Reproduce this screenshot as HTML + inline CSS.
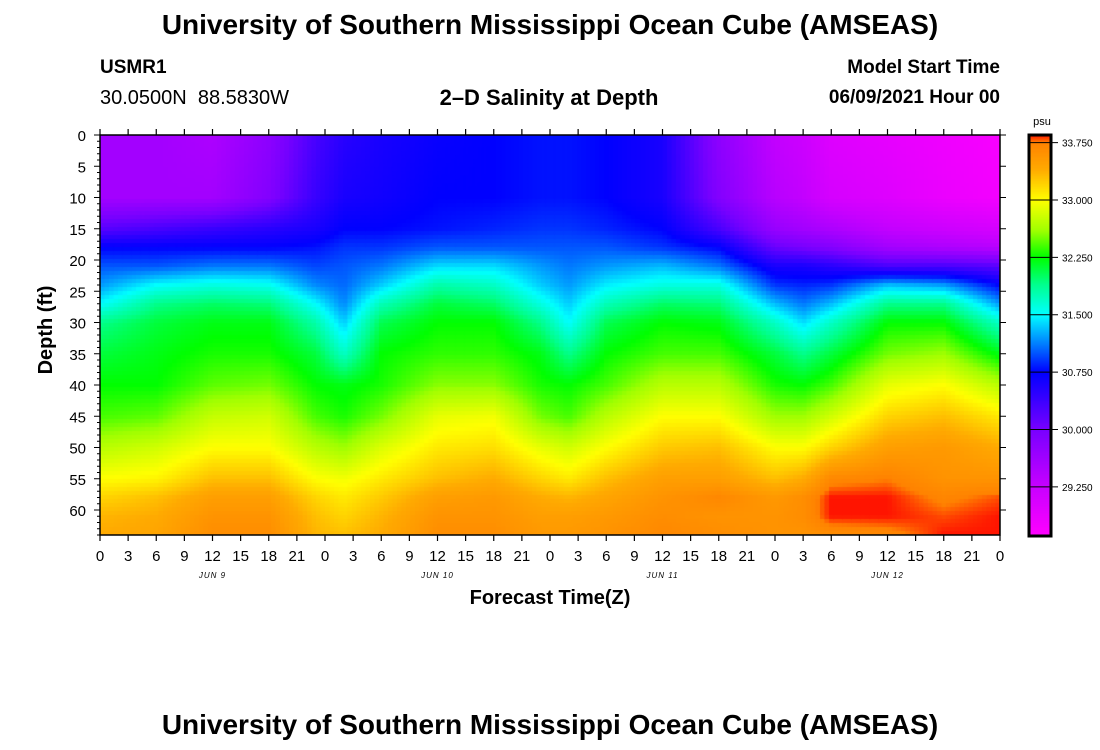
<!DOCTYPE html>
<html><head><meta charset="utf-8">
<style>
html,body{margin:0;padding:0;background:#fff;}
#wrap{position:relative;width:1100px;height:750px;overflow:hidden;font-family:"Liberation Sans",sans-serif;color:#000;}
.t{position:absolute;white-space:nowrap;}
</style></head>
<body>
<div id="wrap">
<div class="t" style="left:0;width:1100px;text-align:center;top:9px;font-size:28px;font-weight:bold;">University of Southern Mississippi Ocean Cube (AMSEAS)</div>
<div class="t" style="left:100px;top:57px;font-size:19px;font-weight:bold;">USMR1</div>
<div class="t" style="left:100px;top:87px;font-size:20px;">30.0500N&nbsp; 88.5830W</div>
<div class="t" style="left:349px;width:400px;text-align:center;top:85px;font-size:22px;font-weight:bold;">2–D Salinity at Depth</div>
<div class="t" style="right:100px;top:57px;font-size:19px;font-weight:bold;">Model Start Time</div>
<div class="t" style="right:100px;top:87px;font-size:19px;font-weight:bold;">06/09/2021 Hour 00</div>
<div class="t" style="left:0;width:1100px;text-align:center;top:709px;font-size:28px;font-weight:bold;">University of Southern Mississippi Ocean Cube (AMSEAS)</div>
<canvas id="heat" width="900" height="400" style="position:absolute;left:100px;top:135px;"></canvas>
<canvas id="cbar" width="20" height="400" style="position:absolute;left:1030px;top:135px;"></canvas>
<svg id="ax" width="1100" height="750" style="position:absolute;left:0;top:0;"></svg>
</div>
<script>
// ---- data ----
const times = [0,6,12,18,23,26,30,36,42,47,50,54,60,66,72,75,78,84,90,96];
const depths = [0,10,15,18,21,24,27,30,35,40,45,50,55,58,61,64];
// salinity (psu): one row per time, values by depth
const sal_t0  = [29.6,29.6,30.2,30.75,31.0,31.2,31.5,31.9,32.1,32.25,32.4,32.7,33.0,33.2,33.35,33.4];
const sal_t6  = [29.6,29.6,30.3,30.75,31.0,31.5,31.9,32.1,32.2,32.25,32.45,32.8,33.05,33.3,33.4,33.45];
const sal_t12 = [29.5,29.6,30.4,30.75,31.1,31.6,32.0,32.2,32.3,32.45,32.75,33.0,33.3,33.5,33.6,33.65];
const sal_t18 = [29.8,29.9,30.5,30.75,31.1,31.55,31.95,32.2,32.3,32.5,32.8,33.0,33.3,33.5,33.6,33.65];
const sal_t23 = [30.3,30.4,30.6,30.8,30.95,31.15,31.5,31.8,32.1,32.25,32.4,32.7,33.0,33.2,33.3,33.35];
const sal_t26 = [30.5,30.6,30.75,30.9,31.0,31.05,31.15,31.35,31.7,32.2,32.3,32.6,32.95,33.1,33.2,33.3];
const sal_t30 = [30.6,30.65,30.75,30.9,31.1,31.35,31.75,32.05,32.25,32.3,32.5,32.85,33.1,33.25,33.35,33.4];
const sal_t36 = [30.7,30.75,30.8,31.0,31.4,31.8,32.1,32.25,32.35,32.55,32.9,33.1,33.3,33.5,33.6,33.65];
const sal_t42 = [30.75,30.75,30.85,31.0,31.4,31.7,32.0,32.25,32.35,32.55,32.95,33.15,33.4,33.55,33.6,33.65];
const sal_t47 = [30.8,30.8,30.9,31.0,31.2,31.35,31.6,31.9,32.2,32.3,32.5,32.9,33.2,33.4,33.5,33.55];
const sal_t50 = [30.8,30.8,30.9,31.0,31.1,31.2,31.35,31.5,31.9,32.25,32.4,32.8,33.1,33.35,33.5,33.55];
const sal_t54 = [30.75,30.75,30.85,31.0,31.2,31.45,31.75,32.05,32.25,32.4,32.7,33.0,33.3,33.45,33.55,33.6];
const sal_t60 = [30.6,30.6,30.75,30.9,31.3,31.6,32.0,32.25,32.4,32.7,33.0,33.25,33.5,33.6,33.65,33.7];
const sal_t66 = [29.8,29.9,30.3,30.75,31.1,31.6,31.95,32.2,32.4,32.7,33.0,33.3,33.5,33.7,33.6,33.65];
const sal_t72 = [29.3,29.4,29.7,30.1,30.6,30.9,31.3,31.7,32.1,32.3,32.6,33.0,33.3,33.55,33.6,33.6];
const sal_t75 = [29.2,29.3,29.6,30.0,30.6,30.85,31.1,31.4,31.9,32.25,32.6,33.0,33.4,33.65,33.65,33.6];
const sal_t78 = [29.0,29.1,29.5,29.9,30.5,30.9,31.3,31.7,32.1,32.4,32.8,33.2,33.7,33.85,33.85,33.65];
const sal_t84 = [28.9,29.0,29.3,29.6,30.3,31.3,31.9,32.25,32.5,32.9,33.2,33.5,33.75,33.85,33.85,33.7];
const sal_t90 = [28.8,28.85,29.2,29.5,30.3,31.2,31.9,32.25,32.6,33.0,33.3,33.55,33.6,33.72,33.8,33.85];
const sal_t96 = [28.7,28.75,29.1,29.4,30.2,30.75,31.2,31.7,32.2,32.7,33.1,33.4,33.6,33.8,33.85,33.85];
const salinity = [sal_t0,sal_t6,sal_t12,sal_t18,sal_t23,sal_t26,sal_t30,sal_t36,sal_t42,sal_t47,sal_t50,sal_t54,sal_t60,sal_t66,sal_t72,sal_t75,sal_t78,sal_t84,sal_t90,sal_t96];
const cbarTicks = [33.75,33.0,32.25,31.5,30.75,30.0,29.25];
const hourLabels = ["0","3","6","9","12","15","18","21"];
const dayLabels = ["JUN 9","JUN 10","JUN 11","JUN 12"];
const depthTicks = [0,5,10,15,20,25,30,35,40,45,50,55,60];

// ---- scales ----
const PX=100,PY=135,PW=900,PH=400,TMAX=96,DMAX=64;
const xS=t=>PX+t/TMAX*PW, yS=d=>PY+d/DMAX*PH;
const VMIN=28.62,VMAX=33.85;
const cstops=[[28.62,[255,0,255]],[29.25,[200,0,255]],[30.0,[120,0,255]],[30.75,[0,0,255]],[31.1,[0,120,255]],[31.5,[0,255,255]],[31.9,[0,255,140]],[32.25,[0,255,0]],[32.6,[160,255,0]],[33.0,[255,255,0]],[33.4,[255,170,0]],[33.75,[255,130,0]],[33.85,[255,20,0]]];
function col(v){
  if(v<=cstops[0][0])return cstops[0][1];
  for(let i=1;i<cstops.length;i++){if(v<=cstops[i][0]){const a=cstops[i-1],b=cstops[i],f=(v-a[0])/(b[0]-a[0]);return a[1].map((c,k)=>Math.round(c+(b[1][k]-c)*f));}}
  return cstops[cstops.length-1][1];
}
function idx(arr,v){let i=0;while(i<arr.length-2&&v>arr[i+1])i++;return [i,(v-arr[i])/(arr[i+1]-arr[i])];}
function val(t,d){
  const [i,ft]=idx(times,t),[j,fd]=idx(depths,d);
  const a=salinity[i][j],b=salinity[i+1][j],c=salinity[i][j+1],e=salinity[i+1][j+1];
  return (a*(1-ft)+b*ft)*(1-fd)+(c*(1-ft)+e*ft)*fd;
}
// heatmap cells
const hc=document.getElementById('heat').getContext('2d');
const CW=4.5,CH=4;
for(let x=0;x<PW;x+=CW){for(let y=0;y<PH;y+=CH){
  const t=(x+CW/2)/PW*TMAX,d=(y+CH/2)/PH*DMAX;
  const c=col(val(t,d));hc.fillStyle='rgb('+c.join(',')+')';hc.fillRect(x,y,CW+0.6,CH+0.6);
}}
// colorbar
const cc=document.getElementById('cbar').getContext('2d');
const cbY=v=>PY+(VMAX-v)/(VMAX-VMIN)*PH;
for(let y=0;y<PH;y++){const v=VMAX-(y+0.5)/PH*(VMAX-VMIN);const c=col(v);cc.fillStyle='rgb('+c.join(',')+')';cc.fillRect(0,y,20,1);}
// axes
const svg=document.getElementById('ax'),NS='http://www.w3.org/2000/svg';
function el(tag,at,txt){const e=document.createElementNS(NS,tag);for(const k in at)e.setAttribute(k,at[k]);if(txt!==undefined)e.textContent=txt;svg.appendChild(e);return e;}
let r=el('rect',{x:PX,y:PY,width:PW,height:PH,fill:'none',stroke:'#000','stroke-width':1.5});


for(let h=0;h<=TMAX;h+=3){
  const x=xS(h);
  el('line',{x1:x,y1:PY,x2:x,y2:PY-6,stroke:'#000','stroke-width':1.2});
  el('line',{x1:x,y1:PY+PH,x2:x,y2:PY+PH+6,stroke:'#000','stroke-width':1.2});
  const tx=el('text',{x:x,y:561,'font-size':15,'text-anchor':'middle','font-family':'Liberation Sans'},hourLabels[(h/3)%8]);
  
  
}
dayLabels.forEach((s,i)=>{
  const tx=el('text',{x:xS(i*24+12),y:578,'font-size':8,'font-style':'italic','text-anchor':'middle','font-family':'Liberation Sans','letter-spacing':1},s);
  
  
});
for(let d=0;d<=DMAX;d++){
  const y=yS(d),major=d%5===0;
  el('line',{x1:PX,y1:y,x2:PX-(major?6:3),y2:y,stroke:'#000','stroke-width':1});
  if(major)el('line',{x1:PX+PW,y1:y,x2:PX+PW+6,y2:y,stroke:'#000','stroke-width':1});
}
depthTicks.forEach(d=>{
  const tx=el('text',{x:86,y:yS(d)+6,'font-size':15,'text-anchor':'end','font-family':'Liberation Sans'},String(d));
  
  
});
let yt=el('text',{x:0,y:0,'font-size':20,'font-weight':'bold','text-anchor':'middle','font-family':'Liberation Sans',transform:'translate(52,330) rotate(-90)'},'Depth (ft)');


let xt=el('text',{x:550,y:604,'font-size':20,'font-weight':'bold','text-anchor':'middle','font-family':'Liberation Sans'},'Forecast Time(Z)');


let cf=el('rect',{x:1029,y:PY,width:22,height:PH+1,fill:'none',stroke:'#000','stroke-width':3});


cbarTicks.forEach(v=>{
  const y=cbY(v);
  el('line',{x1:1030,y1:y,x2:1058,y2:y,stroke:'#000','stroke-width':1});
  const tx=el('text',{x:1062,y:y+4,'font-size':10,'font-family':'Liberation Sans'},v.toFixed(3));
  
  
});
let pu=el('text',{x:1042,y:125,'font-size':11,'text-anchor':'middle','font-family':'Liberation Sans'},'psu');


</script>
</body></html>
